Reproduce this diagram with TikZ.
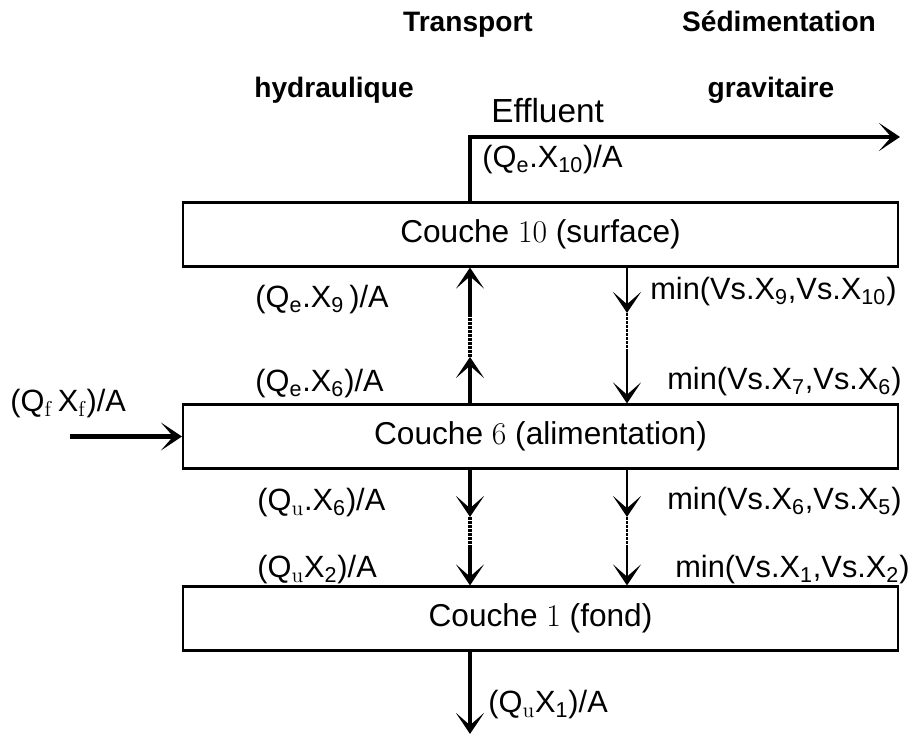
\documentclass[tikz,border=0pt]{standalone}
\usepackage{fontspec}
\setsansfont{Liberation Sans}
\renewcommand\familydefault{\sfdefault}
\usepackage{tikz}
\usetikzlibrary{arrows.meta}
\usetikzlibrary{calc}
\tikzset{>={Stealth[length=12pt,width=16pt,inset=7pt]}}
\newcommand\boxwidth{1.2pt}
\newcommand\hydrowidth{2.3pt}
\newcommand\sedimwidth{1.4pt}
\newcommand\lo[1]{\textsubscript{#1}}
\newcommand\labelsize{\fontsize{17.5}{21}\selectfont}
\tikzstyle{couche} = [draw, line width=\boxwidth, minimum width=14.3cm, minimum height=1.28cm,
 inner sep=0pt, font=\fontsize{18}{22}\selectfont]
\tikzstyle{hydro}  = [line width=\hydrowidth]
\tikzstyle{sedim}  = [line width=\sedimwidth]
\tikzstyle{gap}    = [dash pattern=on 1.5pt off 0.8pt]
\tikzstyle{flux}   = [anchor=base west, inner sep=0pt, font=\labelsize]
\tikzstyle{titre}  = [anchor=base, inner sep=0pt, font=\fontsize{16}{19}\selectfont\bfseries]

\begin{document}
\begin{tikzpicture}
    \useasboundingbox (0,0) rectangle (18.26,14.76);
    \draw (10.81,10.07) node[couche] (c10) {Couche \textrm{10} (surface)};
    \draw (10.81,6.03) node[couche] (c6) {Couche \textrm{6} (alimentation)};
    \draw (10.81,2.39) node[couche] (c1) {Couche \textrm{1} (fond)};
    \draw (9.36,14.12) node[titre] (transp) {Transport};
    \draw (15.58,14.12) node[titre] (sedim) {Sédimentation};
    \draw (6.68,12.8) node[titre] (hydr) {hydraulique};
    \draw (15.42,12.8) node[titre] (grav) {gravitaire};
    \draw (9.82,12.3) node[flux, font=\fontsize{19}{23}\selectfont] (effl) {Effluent};
    \coordinate (colL) at (9.4,0);
    \coordinate (colR) at (12.54,0);
    \coordinate (out) at (18.0,12.02);
    \coordinate (feed) at (1.4,6.03);
    \coordinate (under) at (9.4,0.08);
    \coordinate (hA) at (9.4,7.62);
    \coordinate (hB) at (9.4,8.44);
    \coordinate (sA) at (12.54,8.5);
    \coordinate (sB) at (12.54,7.76);
    \coordinate (hC) at (9.4,4.42);
    \coordinate (hD) at (9.4,3.86);
    \coordinate (sC) at (12.54,4.42);
    \coordinate (sD) at (12.54,3.86);
    % hydraulic transport
    \draw[hydro, ->] (c10.north -| colL) |- (out);
    \draw[hydro, ->] (feed) -- (c6.west);
    \draw[hydro, ->] (c6.north -| hA) -- (hA);
    \draw[hydro, gap] (hA) -- (hB);
    \draw[hydro, ->] (hB) -- (c10.south -| hB);
    \draw[hydro, ->] (c6.south -| hC) -- (hC);
    \draw[hydro, gap] (hC) -- (hD);
    \draw[hydro, ->] (hD) -- (c1.north -| hD);
    \draw[hydro, ->] (c1.south -| under) -- (under);
    % settling
    \draw[sedim, ->] (c10.south -| sA) -- (sA);
    \draw[sedim, gap] (sA) -- (sB);
    \draw[sedim, ->] (sB) -- (c6.north -| sB);
    \draw[sedim, ->] (c6.south -| sC) -- (sC);
    \draw[sedim, gap] (sC) -- (sD);
    \draw[sedim, ->] (sD) -- (c1.north -| sD);
    % fluxes
    \draw (9.64,11.4) node[flux] (qe10) {(Q\lo{e}.X\lo{10})/A};
    \draw (5.1,8.6) node[flux] (qe9) {(Q\lo{e}.X\lo{9}\,)/A};
    \draw (5.1,6.92) node[flux] (qe6) {(Q\lo{e}.X\lo{6})/A};
    \draw (13.0,8.76) node[flux] (vs9) {min(Vs.X\lo{9},Vs.X\lo{10})};
    \draw (13.34,6.96) node[flux] (vs7) {min(Vs.X\lo{7},Vs.X\lo{6})};
    \draw (0.2,6.52) node[flux] (qf) {(Q\lo{\textrm{f}}\,X\lo{\textrm{f}})/A};
    \draw (5.14,4.54) node[flux] (qu6) {(Q\lo{\textrm{u}}.X\lo{6})/A};
    \draw (13.34,4.56) node[flux] (vs6) {min(Vs.X\lo{6},Vs.X\lo{5})};
    \draw (5.14,3.2) node[flux] (qu2) {(Q\lo{\textrm{u}}X\lo{2})/A};
    \draw (13.5,3.2) node[flux] (vs1) {min(Vs.X\lo{1},Vs.X\lo{2})};
    \draw (9.76,0.5) node[flux] (qu1) {(Q\lo{\textrm{u}}X\lo{1})/A};
\end{tikzpicture}
\end{document}
